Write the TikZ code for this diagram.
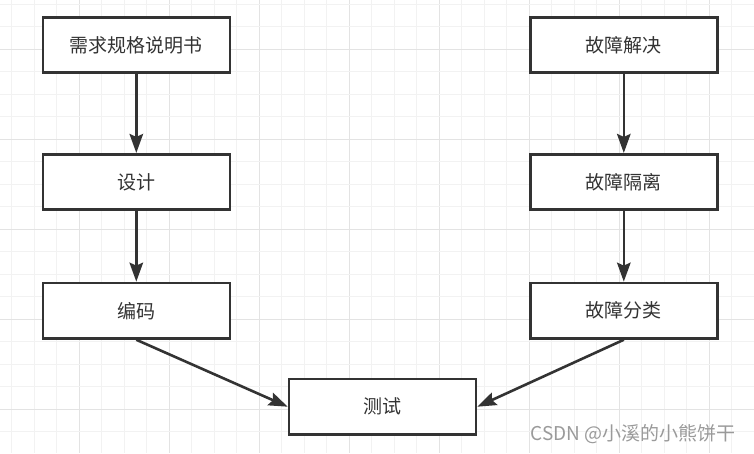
\documentclass[tikz,border=0pt]{standalone}
\usepackage{fontspec}
\setmainfont{Noto Sans CJK SC}
\usetikzlibrary{arrows.meta}
\definecolor{ink}{HTML}{333333}
\definecolor{gridminor}{HTML}{F2F2F2}
\definecolor{gridmajor}{HTML}{E3E3E3}
\definecolor{mark}{HTML}{9A9A9A}
\begin{document}
\begin{tikzpicture}[
  x=1pt, y=-1pt, >={Stealth[length=19pt, width=13.5pt, inset=3pt]},
  bx/.style={draw=ink, line width=2.6pt, fill=white, minimum width=187pt, minimum height=55.5pt, inner sep=0pt, text=ink, font=\fontsize{19}{22}\selectfont},
  fl/.style={->, line width=2.6pt, draw=ink, fill=ink},
]
\useasboundingbox (0,0) rectangle (754,453);
\fill[white] (0,0) rectangle (754,453);
% grid
\foreach \i in {0,...,33} {
  \pgfmathtruncatemacro\mj{mod(\i,4)==3}
  \ifnum\mj=1 \draw[gridmajor, line width=1.2pt] (11.8+22.5*\i,0) -- (11.8+22.5*\i,453);
  \else \draw[gridminor, line width=1.2pt] (11.8+22.5*\i,0) -- (11.8+22.5*\i,453); \fi
}
\foreach \j in {0,...,20} {
  \pgfmathtruncatemacro\mj{mod(\j,4)==2}
  \ifnum\mj=1 \draw[gridmajor, line width=1.2pt] (0,4.3+22.5*\j) -- (754,4.3+22.5*\j);
  \else \draw[gridminor, line width=1.2pt] (0,4.3+22.5*\j) -- (754,4.3+22.5*\j); \fi
}
% left column
\node[bx] (req) at (136.3,45) {需求规格说明书};
\node[bx] (des) at (136.3,182) {设计};
\node[bx] (cod) at (136.3,310.7) {编码};
% right column
\node[bx] (fix) at (623.8,45) {故障解决};
\node[bx] (iso) at (623.8,182) {故障隔离};
\node[bx] (cls) at (623.8,310.7) {故障分类};
% bottom
\node[bx] (tst) at (382.5,406.7) {测试};
\draw[fl] (req) -- (des);
\draw[fl] (des) -- (cod);
\draw[fl] (fix) -- (iso);
\draw[fl] (iso) -- (cls);
\draw[fl] (cod.south) -- (tst.west);
\draw[fl] (cls.south) -- (tst.east);
\node[text=mark, font=\fontsize{19}{22}\selectfont, inner sep=0pt] (wm) at (633,434.5) {CSDN @小溪的小熊饼干};
\end{tikzpicture}
\end{document}
